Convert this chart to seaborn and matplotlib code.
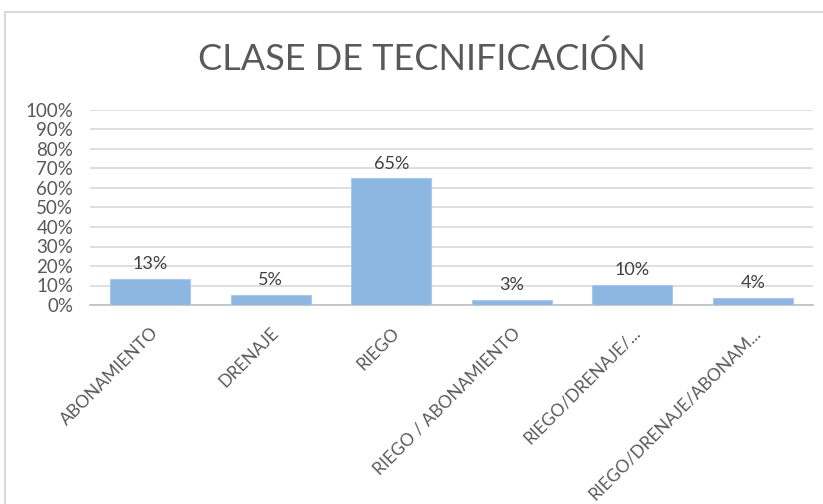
import matplotlib
matplotlib.use("Agg")
import matplotlib.pyplot as plt
import seaborn as sns
from matplotlib.ticker import PercentFormatter, MultipleLocator

categories = ["ABONAMIENTO", "DRENAJE", "RIEGO", "RIEGO / ABONAMIENTO",
              "RIEGO/DRENAJE/...", "RIEGO/DRENAJE/ABONAM..."]
shares = [0.132, 0.053, 0.649, 0.026, 0.104, 0.036]

BAR = "#8db7e1"
TEXT = "#595959"
GRID = "#d9d9d9"

sns.set_theme(style="white")
plt.rcParams["font.family"] = ["Lato", "DejaVu Sans"]

fig = plt.figure(figsize=(8.23, 5.04), dpi=100)
ax = fig.add_axes([90 / 823, 1 - 305 / 504, 723 / 823, 195 / 504])

sns.barplot(x=categories, y=shares, color=BAR, saturation=1, width=0.66,
            edgecolor="#a9c9ea", linewidth=0.8, ax=ax, zorder=3)

ax.set_ylim(0, 1.0)
ax.set_xlim(-0.5, len(categories) - 0.5)
ax.yaxis.set_major_locator(MultipleLocator(0.1))
ax.yaxis.set_major_formatter(PercentFormatter(1.0, decimals=0))
ax.grid(axis="y", color=GRID, linewidth=1.2, zorder=0)
ax.tick_params(axis="y", colors=TEXT, labelsize=13.5, length=0, pad=12)
ax.tick_params(axis="x", colors=TEXT, labelsize=12.5, length=0, pad=14)
plt.setp(ax.get_xticklabels(), rotation=45, ha="right", rotation_mode="anchor",
         color=TEXT)

for side in ["top", "right", "left"]:
    ax.spines[side].set_visible(False)
ax.spines["bottom"].set_color("#bfbfbf")
ax.spines["bottom"].set_linewidth(1.2)

for i, v in enumerate(shares):
    ax.text(i, v + 0.035, f"{round(v * 100)}%", ha="center", va="bottom",
            fontsize=13, color="#404040")

fig.text(422 / 823, 1 - 59 / 504, "CLASE DE TECNIFICACIÓN", ha="center",
         va="center", fontsize=26, color=TEXT)

# chart frame (only top and left edges are visible in the crop)
fig.patches.append(plt.Rectangle((5 / 823, -0.2), 1.2, 1.2 - 12 / 504,
                                 transform=fig.transFigure, fill=False,
                                 edgecolor=GRID, linewidth=1.5))

fig.savefig("out.png", dpi=100)
